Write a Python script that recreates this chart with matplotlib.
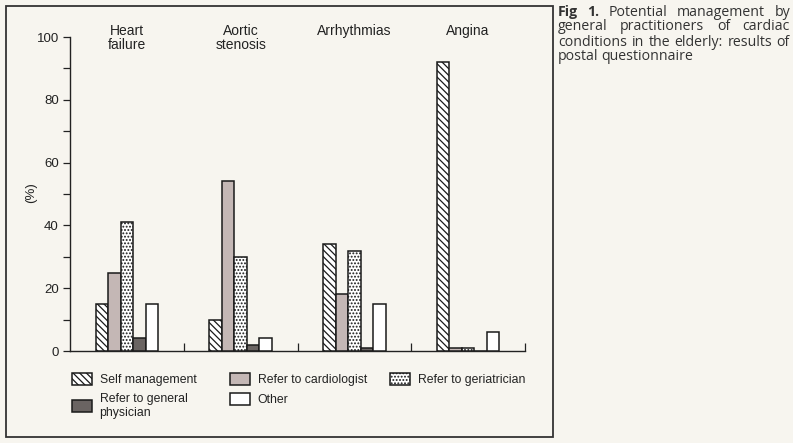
import matplotlib
matplotlib.use('Agg')
from matplotlib import pyplot as plt
from matplotlib.patches import Rectangle, Patch
import numpy as np

conditions = ['Heart\nfailure', 'Aortic\nstenosis', 'Arrhythmias', 'Angina']
series = ['Self management', 'Refer to cardiologist', 'Refer to geriatrician',
          'Refer to general\nphysician', 'Other']
self_mgmt = [15, 10, 34, 92]
cardiologist = [25, 54, 18, 1]
geriatrician = [41, 30, 32, 1]
general_phys = [4, 2, 1, 0]
other = [15, 4, 15, 6]
values = [self_mgmt, cardiologist, geriatrician, general_phys, other]

caption_lines = ['Fig 1. Potential management by',
                 'general practitioners of cardiac',
                 'conditions in the elderly: results of',
                 'postal questionnaire']

styles = [
    dict(facecolor='white', hatch='\\\\\\\\\\'),
    dict(facecolor='#c4b7b5', hatch=None),
    dict(facecolor='white', hatch='.....'),
    dict(facecolor='#6a6462', hatch=None),
    dict(facecolor='white', hatch=None),
]

bg = '#f7f5ef'
ink = '#222222'
plt.rcParams['font.family'] = ['Liberation Sans', 'DejaVu Sans']
plt.rcParams['hatch.linewidth'] = 0.9

W, H = 793, 443
fig = plt.figure(figsize=(W / 100, H / 100), dpi=100, facecolor=bg)
ax = fig.add_axes([70 / W, 1 - 351 / H, 455 / W, 314 / H])
ax.set_facecolor(bg)

width = 0.11
x = np.arange(len(conditions)) + 0.5
handles = []
for i, (vals, st) in enumerate(zip(values, styles)):
    pos = x + (i - 2) * width
    ax.bar(pos, vals, width=width, edgecolor='#1a1a1a', linewidth=1.1,
           zorder=3, **st)
    handles.append(Patch(edgecolor='#1a1a1a', linewidth=1.1, label=series[i], **st))

ax.set_xlim(0, 4)
ax.set_ylim(0, 100)
ax.spines['top'].set_visible(False)
ax.spines['right'].set_visible(False)
for s in ['left', 'bottom']:
    ax.spines[s].set_linewidth(1.0)
    ax.spines[s].set_color(ink)

ax.set_yticks(np.arange(0, 101, 20))
ax.set_yticks(np.arange(10, 100, 20), minor=True)
ax.tick_params(axis='y', which='both', direction='out', length=5, width=0.9,
               labelsize=9.5, colors=ink, pad=3)
ax.set_xticks([1, 2, 3, 4])
ax.set_xticklabels([])
ax.tick_params(axis='x', direction='in', length=6, width=0.9, colors=ink)
ax.set_ylabel('(%)', fontsize=9.5, color=ink)
ax.yaxis.set_label_coords(-33 / 455, 0.503)

for xi, name in zip(x, conditions):
    ax.text(xi, 104, name, ha='center', va='top', fontsize=10,
            color=ink, linespacing=1.0, clip_on=False)

# one legend per column so each column sits where the reference has it
cols = [[0, 3], [1, 4], [2]]
col_x = [72, 230, 390]
for idx, cx in zip(cols, col_x):
    fig.legend([handles[k] for k in idx], [series[k] for k in idx],
               loc='upper left', bbox_to_anchor=(cx / W, 1 - 373 / H),
               borderaxespad=0, borderpad=0, frameon=False, fontsize=8.8,
               handlelength=1.65, handleheight=1.15, handletextpad=0.6,
               labelspacing=0.55, labelcolor=ink)

# frame around chart panel
fig.add_artist(Rectangle((6 / W, 1 - 437 / H), 547 / W, 431 / H,
                         transform=fig.transFigure, fill=False,
                         edgecolor='#333333', linewidth=1.3))

# justified caption
renderer = fig.canvas.get_renderer()
cap_x0, cap_x1 = 558, 790
for li, line in enumerate(caption_lines):
    y = 1 - (12 + 15 * li) / H
    words = line.split(' ')
    txts = []
    for wi, w in enumerate(words):
        bold = li == 0 and wi < 2
        t = fig.text(cap_x0 / W, y, w, fontsize=10.2, family='Open Sans',
                     color='#333333', va='center',
                     fontweight='bold' if bold else 'normal')
        txts.append(t)
    widths = [t.get_window_extent(renderer).width for t in txts]
    if li < len(caption_lines) - 1 and len(words) > 1:
        gap = (cap_x1 - cap_x0 - sum(widths)) / (len(words) - 1)
    else:
        gap = 3.0
    xpos = cap_x0
    for t, wd in zip(txts, widths):
        t.set_x(xpos / W)
        xpos += wd + gap

fig.savefig('out.png', dpi=100, facecolor=bg)
